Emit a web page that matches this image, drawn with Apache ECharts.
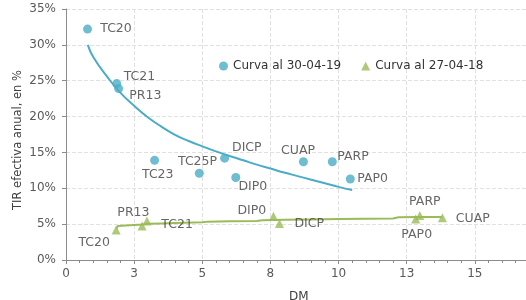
<!DOCTYPE html>
<html lang="es">
<head>
    <meta charset="UTF-8">
    <title>TIR vs DM</title>
    <script src="https://cdn.jsdelivr.net/npm/echarts@6/dist/echarts.min.js"></script>
</head>
<body style="margin:0">
<div id="main" style="width: 526px; height: 300px;"></div>
<script>
    // curva al 30-04-19 (puntos)
    var blueNames = ['TC20', 'TC21', 'PR13', 'TC23', 'TC25P', 'DICP', 'DIP0', 'CUAP', 'PARP', 'PAP0'];
    var blueDM = [0.79, 1.86, 1.93, 3.25, 4.89, 5.82, 6.23, 8.71, 9.77, 10.43];
    var blueTIR = [32.2, 24.6, 23.9, 13.9, 12.1, 14.2, 11.5, 13.7, 13.7, 11.3];

    // curva al 27-04-18 (puntos)
    var greenNames = ['TC20', 'TC21', 'PR13', 'DIP0', 'DICP', 'PAP0', 'PARP', 'CUAP'];
    var greenDM = [1.84, 2.79, 2.97, 7.61, 7.83, 12.83, 12.98, 13.81];
    var greenTIR = [4.2, 4.75, 5.45, 6.1, 5.1, 5.7, 6.2, 5.9];

    // lineas de tendencia
    var blueFitDM = [0.8, 1.0, 1.5, 2.0, 2.5, 3.0, 3.5, 4.0, 4.5, 5.0, 5.5, 6.0, 6.5, 7.0, 7.5, 8.0, 8.5, 9.0, 9.5, 10.0, 10.5];
    var blueFitTIR = [30.0, 28.3, 25.6, 23.3, 21.5, 19.9, 18.6, 17.45, 16.6, 15.85, 15.15, 14.5, 13.9, 13.3, 12.75, 12.2, 11.7, 11.2, 10.7, 10.2, 9.75];
    var greenFitDM = [1.85, 1.9, 2.8, 3.0, 3.5, 4.0, 5.0, 5.2, 6.0, 7.0, 7.2, 8.0, 9.0, 10.0, 11.0, 12.0, 12.2, 13.0, 13.8];
    var greenFitTIR = [4.4, 4.75, 4.95, 5.05, 5.1, 5.15, 5.25, 5.35, 5.4, 5.45, 5.55, 5.6, 5.65, 5.7, 5.75, 5.8, 5.95, 6.0, 6.0];

    // titulos de ejes
    var xTitle = 'DM';
    var yTitle = 'TIR efectiva anual, en %';

    // desplazamiento de etiquetas [dx, dy] respecto del centro del punto
    var blueLabelOff = [[12.7, 0], [7, -7], [10.7, 6.7], [-12.6, 14.3], [-21.3, -11.3], [7.4, -10.7], [2.6, 9.4], [-22.3, -11], [5, -5.3], [7, -0.7]];
    var greenLabelOff = [[-37.7, 12.7], [19.3, -0.7], [-29.6, -8], [-36, -6], [15, 0.7], [-14.4, 15.7], [-10.7, -13.4], [13.4, 1]];

    var BLUE = '#4BACC6';
    var GREEN = '#9BBB59';
    var FONT = 'DejaVu Sans';

    function points(names, xs, ys, offs, size) {
        var out = [];
        for (var i = 0; i < names.length; i++) {
            out.push({
                name: names[i],
                value: [xs[i], ys[i]],
                label: {
                    position: [offs[i][0] + size / 2, offs[i][1] + size / 2]
                }
            });
        }
        return out;
    }

    function pairs(xs, ys) {
        var out = [];
        for (var i = 0; i < xs.length; i++) out.push([xs[i], ys[i]]);
        return out;
    }

    var myChart = echarts.init(document.getElementById('main'));
    var labelStyle = {
        show: true,
        formatter: '{b}',
        align: 'left',
        verticalAlign: 'middle',
        fontFamily: FONT,
        fontSize: 12.5,
        color: '#404040'
    };
    var option = {
        animation: false,
        grid: {
            left: 66,
            right: -17,
            top: 9,
            bottom: 40,
            outerBoundsMode: 'none'
        },
        graphic: [
            {
                type: 'text',
                left: 289,
                top: 291,
                style: {text: xTitle, fontFamily: FONT, fontSize: 12, fill: '#404040'}
            },
            {
                type: 'text',
                x: 18,
                y: 140,
                rotation: Math.PI / 2,
                style: {text: yTitle, fontFamily: FONT, fontSize: 11.5, fill: '#404040', align: 'center', verticalAlign: 'middle'}
            }
        ],
        legend: {
            data: ['Curva al 30-04-19', 'Curva al 27-04-18'],
            left: 214,
            top: 55,
            itemWidth: 9,
            itemHeight: 9,
            itemGap: 20,
            textStyle: {fontFamily: FONT, fontSize: 12, color: '#333'}
        },
        xAxis: {
            type: 'value',
            min: 0,
            max: 17.5,
            interval: 2.5,
            axisLine: {lineStyle: {color: '#8c8c8c'}},
            axisTick: {show: true, length: 4, lineStyle: {color: '#8c8c8c'}},
            minorTick: {show: true, splitNumber: 5, length: 3, lineStyle: {color: '#8c8c8c'}},
            axisLabel: {
                fontFamily: FONT,
                fontSize: 12,
                color: '#595959',
                formatter: function (v) { return String(Math.round(v)); }
            },
            splitLine: {show: true, lineStyle: {color: '#e0e0e0', type: 'dashed'}}
        },
        yAxis: {
            type: 'value',
            min: 0,
            max: 35,
            interval: 5,
            axisLine: {show: true, lineStyle: {color: '#8c8c8c'}},
            axisTick: {show: true, length: 4, lineStyle: {color: '#8c8c8c'}},
            axisLabel: {margin: 10, fontFamily: FONT, fontSize: 12, color: '#595959', formatter: '{value}%'},
            splitLine: {show: true, lineStyle: {color: '#e0e0e0', type: 'dashed'}}
        },
        series: [
            {
                name: 'fit19',
                type: 'line',
                data: pairs(blueFitDM, blueFitTIR),
                smooth: true,
                showSymbol: false,
                lineStyle: {color: BLUE, width: 2},
                z: 1
            },
            {
                name: 'fit18',
                type: 'line',
                data: pairs(greenFitDM, greenFitTIR),
                showSymbol: false,
                lineStyle: {color: GREEN, width: 2},
                z: 1
            },
            {
                name: 'Curva al 30-04-19',
                type: 'scatter',
                symbol: 'circle',
                symbolSize: 9,
                itemStyle: {color: BLUE},
                label: labelStyle,
                data: points(blueNames, blueDM, blueTIR, blueLabelOff, 9),
                z: 3
            },
            {
                name: 'Curva al 27-04-18',
                type: 'scatter',
                symbol: 'triangle',
                symbolSize: 9,
                itemStyle: {color: GREEN},
                label: labelStyle,
                data: points(greenNames, greenDM, greenTIR, greenLabelOff, 9),
                z: 3
            }
        ]
    };
    myChart.setOption(option);
</script>
</body>
</html>
